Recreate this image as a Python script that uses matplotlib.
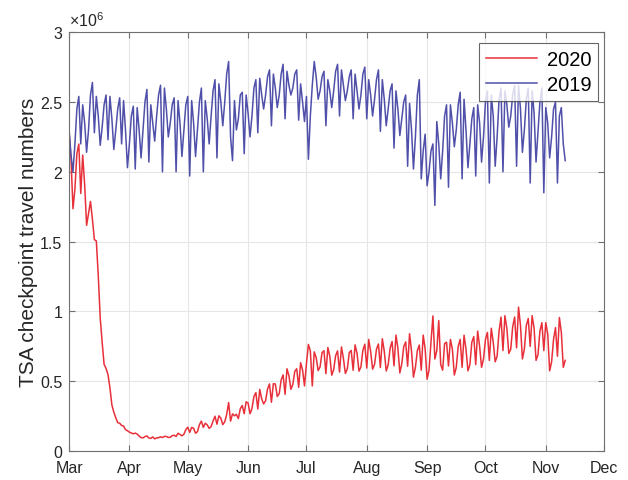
import matplotlib
matplotlib.use("Agg")
import matplotlib.pyplot as plt
import matplotlib.dates as mdates
import pandas as pd

# daily TSA checkpoint numbers (millions), 2020 dates; 2019 aligned by weekday
mar_2020 = [2.281, 2.090, 1.736, 1.877, 2.130, 2.199, 1.845, 2.120, 1.909, 1.617,
            1.703, 1.788, 1.660, 1.515, 1.505, 1.258, 0.954, 0.780, 0.621, 0.593,
            0.548, 0.454, 0.331, 0.279, 0.239, 0.204, 0.200, 0.184, 0.180, 0.154, 0.146]
apr_2020 = [0.136, 0.130, 0.124, 0.129, 0.122, 0.108, 0.097, 0.095, 0.104, 0.109,
            0.094, 0.091, 0.102, 0.088, 0.095, 0.096, 0.103, 0.097, 0.106, 0.105,
            0.098, 0.099, 0.111, 0.114, 0.105, 0.128, 0.119, 0.110, 0.120, 0.154]
may_2020 = [0.171, 0.134, 0.170, 0.164, 0.128, 0.140, 0.190, 0.215, 0.170, 0.200,
            0.188, 0.163, 0.176, 0.215, 0.250, 0.193, 0.253, 0.236, 0.190, 0.210,
            0.262, 0.348, 0.215, 0.267, 0.253, 0.264, 0.233, 0.304, 0.327, 0.268, 0.353]
jun_2020 = [0.345, 0.268, 0.305, 0.391, 0.419, 0.302, 0.442, 0.374, 0.338, 0.361,
            0.445, 0.481, 0.350, 0.483, 0.481, 0.391, 0.412, 0.510, 0.546, 0.407,
            0.590, 0.540, 0.443, 0.478, 0.571, 0.590, 0.457, 0.633, 0.581, 0.467]
jul_2020 = [0.626, 0.764, 0.718, 0.467, 0.711, 0.670, 0.577, 0.603, 0.705, 0.719,
            0.555, 0.742, 0.680, 0.544, 0.584, 0.684, 0.718, 0.566, 0.746, 0.664,
            0.556, 0.589, 0.705, 0.721, 0.579, 0.761, 0.700, 0.573, 0.603, 0.721, 0.766]
aug_2020 = [0.595, 0.800, 0.713, 0.587, 0.621, 0.731, 0.767, 0.599, 0.805, 0.715,
            0.574, 0.618, 0.737, 0.785, 0.611, 0.831, 0.737, 0.560, 0.626, 0.748,
            0.782, 0.608, 0.841, 0.716, 0.530, 0.600, 0.720, 0.760, 0.580, 0.831, 0.733]
sep_2020 = [0.515, 0.580, 0.780, 0.968, 0.660, 0.720, 0.935, 0.620, 0.580, 0.770,
            0.780, 0.610, 0.800, 0.730, 0.545, 0.600, 0.750, 0.800, 0.600, 0.830,
            0.730, 0.575, 0.620, 0.780, 0.820, 0.620, 0.860, 0.750, 0.600, 0.660]
oct_2020 = [0.800, 0.850, 0.650, 0.880, 0.780, 0.640, 0.680, 0.860, 0.960, 0.720,
            0.970, 0.880, 0.700, 0.730, 0.890, 0.960, 0.740, 1.031, 0.900, 0.660,
            0.730, 0.900, 0.950, 0.750, 0.970, 0.880, 0.650, 0.690, 0.860, 0.920, 0.720]
nov_2020 = [0.920, 0.840, 0.575, 0.640, 0.800, 0.885, 0.680, 0.957, 0.850, 0.600, 0.650]

mar_2019 = [2.30, 2.12, 2.00, 2.20, 2.45, 2.54, 2.20, 2.48, 2.35, 2.14,
            2.30, 2.55, 2.64, 2.28, 2.54, 2.40, 2.19, 2.32, 2.48, 2.55,
            2.23, 2.54, 2.38, 2.16, 2.30, 2.45, 2.53, 2.20, 2.51, 2.30, 2.03]
apr_2019 = [2.20, 2.40, 2.47, 2.02, 2.46, 2.30, 2.10, 2.30, 2.50, 2.59,
            2.07, 2.48, 2.35, 2.22, 2.40, 2.55, 2.62, 2.00, 2.60, 2.45,
            2.25, 2.35, 2.48, 2.53, 2.00, 2.51, 2.35, 2.11, 2.30, 2.48]
may_2019 = [2.54, 1.97, 2.51, 2.35, 2.11, 2.30, 2.50, 2.60, 2.00, 2.51,
            2.38, 2.20, 2.40, 2.58, 2.66, 2.10, 2.63, 2.50, 2.33, 2.50,
            2.70, 2.79, 2.25, 2.08, 2.51, 2.30, 2.38, 2.55, 2.57, 2.13, 2.55]
jun_2019 = [2.42, 2.25, 2.40, 2.60, 2.66, 2.28, 2.67, 2.55, 2.45, 2.55,
            2.68, 2.73, 2.33, 2.70, 2.60, 2.46, 2.55, 2.70, 2.77, 2.38,
            2.72, 2.62, 2.55, 2.60, 2.70, 2.73, 2.37, 2.63, 2.50, 2.36]
jul_2019 = [2.54, 2.09, 2.40, 2.62, 2.79, 2.68, 2.52, 2.58, 2.68, 2.72,
            2.33, 2.66, 2.58, 2.46, 2.58, 2.72, 2.77, 2.40, 2.73, 2.62,
            2.51, 2.58, 2.68, 2.73, 2.38, 2.70, 2.58, 2.45, 2.55, 2.70, 2.75]
aug_2019 = [2.38, 2.66, 2.55, 2.40, 2.52, 2.66, 2.73, 2.29, 2.66, 2.52,
            2.33, 2.45, 2.58, 2.63, 2.17, 2.58, 2.45, 2.26, 2.38, 2.50,
            2.55, 2.04, 2.49, 2.30, 2.02, 2.25, 2.55, 2.66, 1.95, 2.15, 2.27]
sep_2019 = [1.90, 2.00, 2.15, 2.20, 1.76, 2.36, 2.20, 1.95, 2.15, 2.40,
            2.48, 1.89, 2.48, 2.35, 2.18, 2.30, 2.48, 2.57, 1.95, 2.52,
            2.30, 2.03, 2.20, 2.38, 2.46, 1.97, 2.48, 2.35, 2.07, 2.25]
oct_2019 = [2.50, 2.58, 1.92, 2.55, 2.40, 2.04, 2.25, 2.52, 2.60, 2.00,
            2.58, 2.48, 2.32, 2.40, 2.55, 2.62, 2.04, 2.62, 2.45, 2.14,
            2.30, 2.52, 2.60, 1.92, 2.58, 2.42, 2.07, 2.28, 2.50, 2.60, 1.85]
nov_2019 = [2.46, 2.35, 2.10, 2.25, 2.45, 2.50, 1.92, 2.40, 2.46, 2.20, 2.08]

y2020 = mar_2020 + apr_2020 + may_2020 + jun_2020 + jul_2020 + aug_2020 + sep_2020 + oct_2020 + nov_2020
y2019 = mar_2019 + apr_2019 + may_2019 + jun_2019 + jul_2019 + aug_2019 + sep_2019 + oct_2019 + nov_2019
dates = pd.date_range("2020-03-01", periods=len(y2020), freq="D")

plt.rcParams['font.family'] = ['Liberation Sans', 'DejaVu Sans']
plt.rcParams['mathtext.fontset'] = 'custom'
plt.rcParams['mathtext.rm'] = 'Liberation Sans'
plt.rcParams['mathtext.it'] = 'Liberation Sans'

fig = plt.figure(figsize=(6.28, 4.81), dpi=100)
ax = fig.add_axes([0.110, 0.060, 0.852, 0.871])

ax.plot(dates, y2020, color='#e8303a', lw=1.1, label='2020')
ax.plot(dates, y2019, color='#5050aa', lw=1.1, label='2019')

ax.set_xlim(pd.Timestamp("2020-03-01"), pd.Timestamp("2020-12-01"))
ax.set_ylim(0, 3)
ax.xaxis.set_major_locator(mdates.MonthLocator())
ax.xaxis.set_major_formatter(mdates.DateFormatter('%b'))
ax.set_yticks([0, 0.5, 1, 1.5, 2, 2.5, 3])
ax.set_yticklabels(['0', '0.5', '1', '1.5', '2', '2.5', '3'])

ax.grid(True, color='#e6e6e6', lw=0.8)
ax.set_axisbelow(True)
for s in ax.spines.values():
    s.set_color('#707070')
    s.set_linewidth(0.8)
ax.tick_params(direction='in', top=True, right=True, length=4, width=0.8,
               color='#707070', labelsize=11.5, labelcolor='#262626')
ax.tick_params(axis='x', pad=6.5)
ax.tick_params(axis='y', pad=5)

ax.set_ylabel('TSA checkpoint travel numbers', fontsize=15, color='#262626')
ax.yaxis.set_label_coords(-0.058, 0.5)
ax.text(0.0, 1.008, r'$\times10^{6}$', transform=ax.transAxes, ha='left', va='bottom',
        fontsize=11.5, color='#262626')

leg = ax.legend(loc='upper right', bbox_to_anchor=(0.989, 0.974), borderaxespad=0,
                fontsize=14.5, fancybox=False, handlelength=2.5, handletextpad=0.5,
                borderpad=0.35, labelspacing=0.3)
leg.get_frame().set_edgecolor('#404040')
leg.get_frame().set_linewidth(0.8)

fig.savefig('out.png', dpi=100)
